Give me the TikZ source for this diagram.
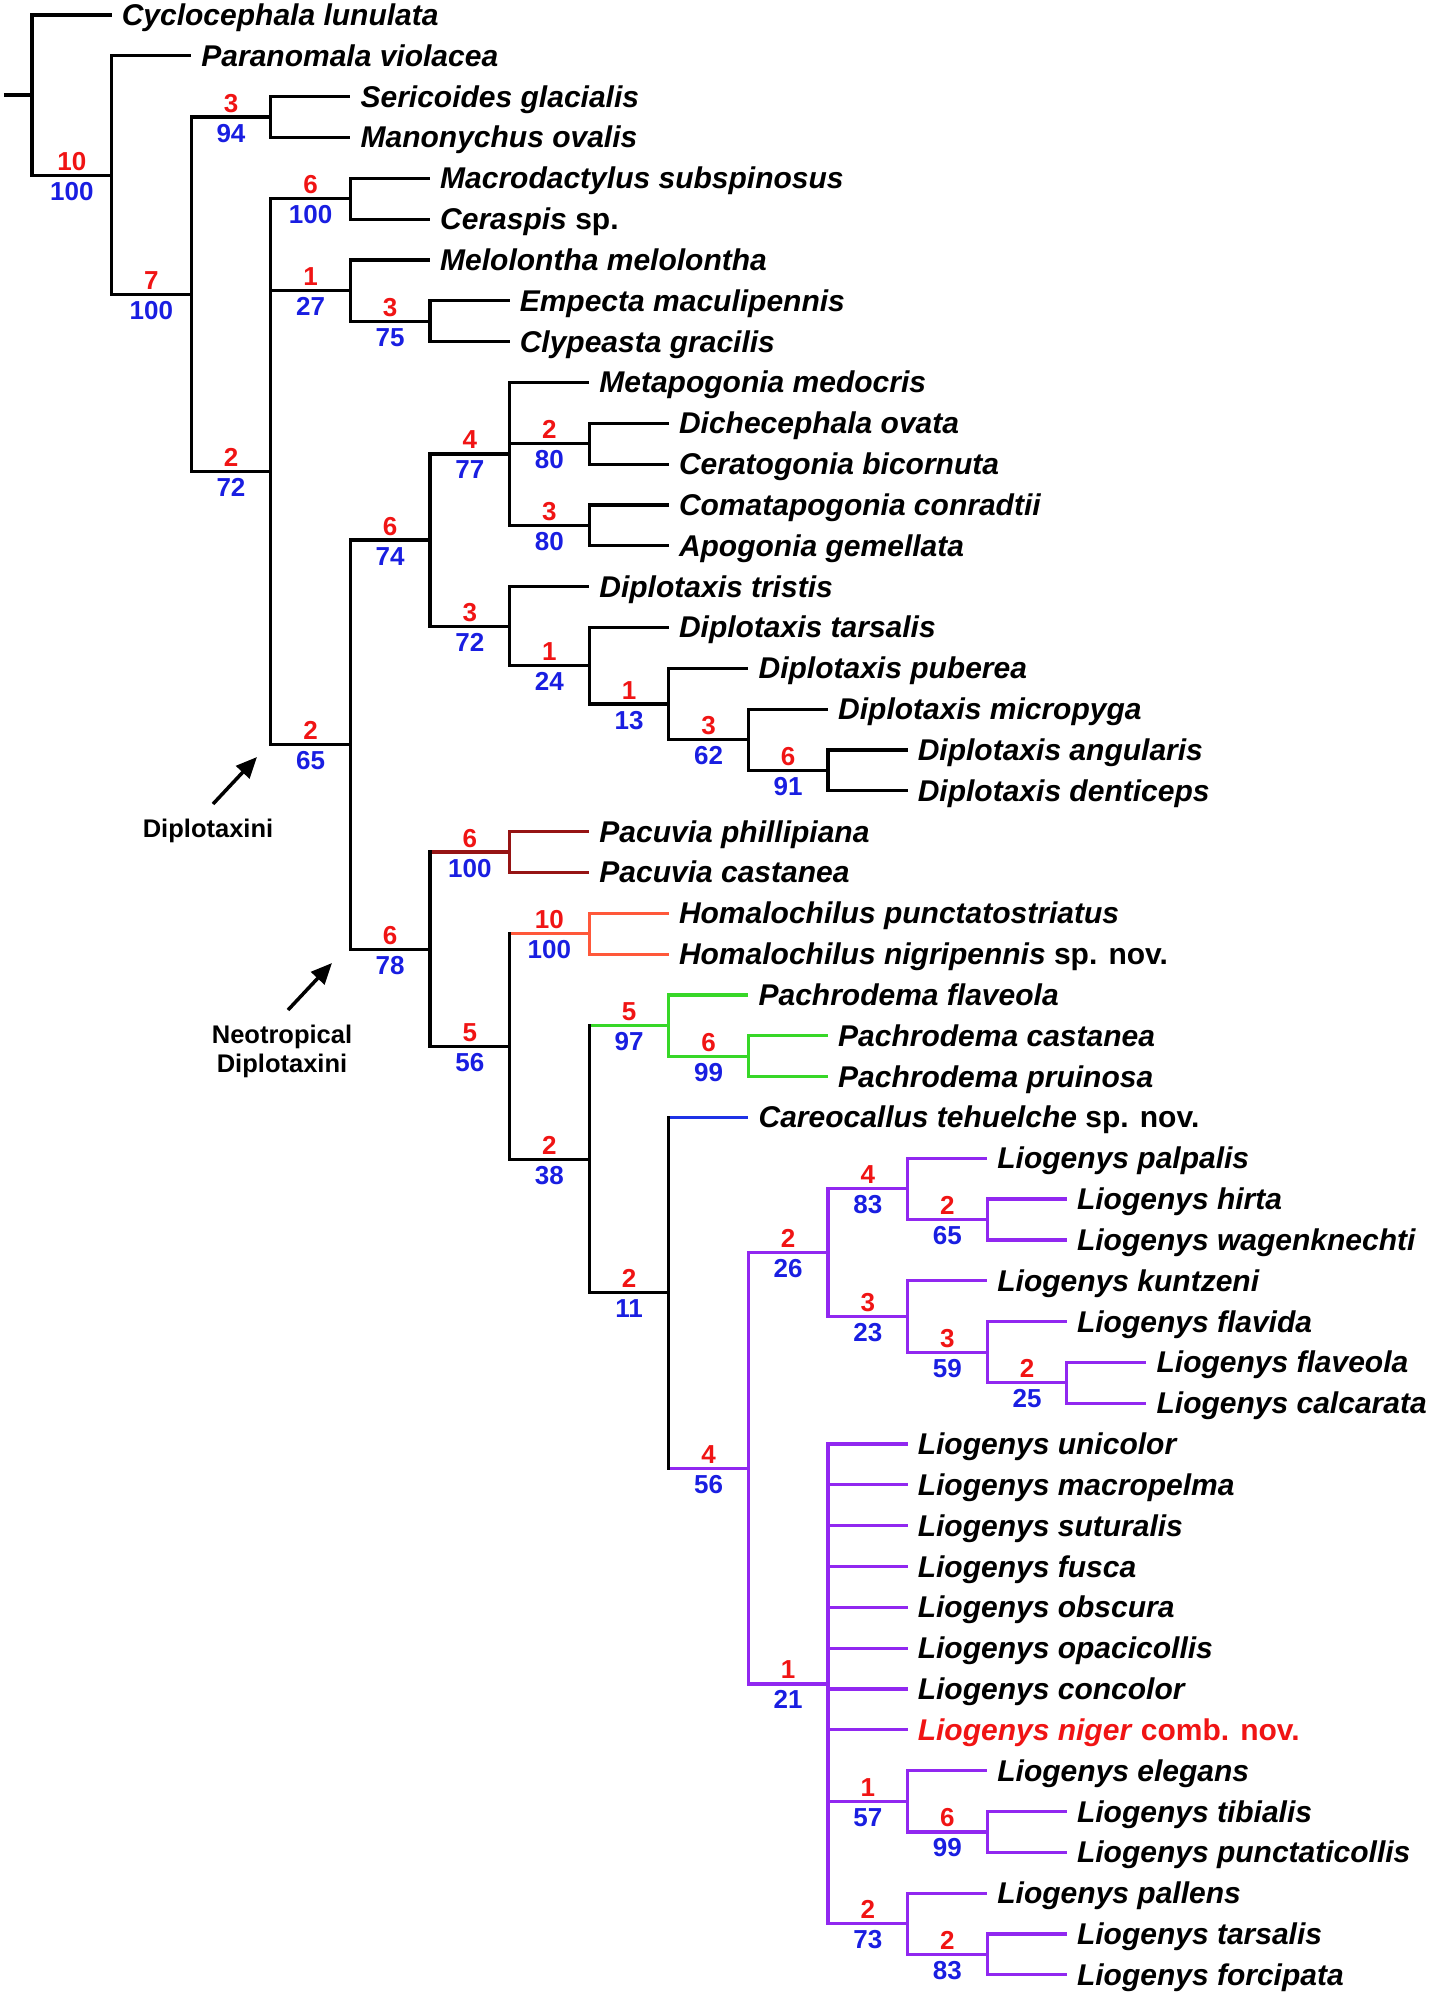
\documentclass[tikz,border=0pt]{standalone}
\usepackage{fontspec}
\setmainfont{Liberation Sans}
\usetikzlibrary{calc,arrows.meta}
\definecolor{nred}{RGB}{240,20,20}
\definecolor{nblue}{RGB}{25,30,225}
\definecolor{pacred}{RGB}{150,20,20}
\definecolor{homor}{RGB}{255,88,58}
\definecolor{pachgr}{RGB}{55,215,40}
\definecolor{carbl}{RGB}{30,50,230}
\definecolor{liopu}{RGB}{145,40,240}
\tikzset{
  hb/.style={line width=3.2pt, line cap=butt},
  vb/.style={line width=3.2pt, line cap=rect},
  tax/.style={anchor=base west, inner sep=0pt, xshift=10pt, yshift=-10.5pt,
    font=\fontsize{30}{36}\selectfont\bfseries\itshape},
  rn/.style={anchor=base, inner sep=0pt, yshift=5pt, text=nred,
    font=\fontsize{26}{30}\selectfont\bfseries},
  bn/.style={anchor=base, inner sep=0pt, yshift=-25pt, text=nblue,
    font=\fontsize{26}{30}\selectfont\bfseries},
  ann/.style={anchor=base, inner sep=0pt, font=\fontsize{25.5}{29}\selectfont\bfseries},
  annarrow/.style={line width=3.5pt, -{Triangle[length=21pt,width=18pt]}}
}
% internal node: name, level, row, parent, colour, red, blue
\newcommand\tnode[7]{%
  \coordinate (#1) at (#2,#3);
  \draw[hb,#5] (#4 |- #1) -- (#1);
  \path ($(#4 |- #1)!0.5!(#1)$) node[rn] (r#1) {#6} node[bn] (b#1) {#7};}
% leaf: id, level, row, parent, colour, text
\newcommand\leaf[6]{%
  \coordinate (t#1) at (#2,#3);
  \draw[hb,#5] (#4 |- t#1) -- (t#1);
  \node[tax] (l#1) at (t#1) {#6};}
% vertical: node, first child, last child, colour
\newcommand\tvert[4]{\draw[vb,#4] (#1 |- #2) -- (#1 |- #3);}
\begin{document}
\begin{tikzpicture}[x=79.6pt,y=-40.83pt]
\useasboundingbox (-32pt,15pt) rectangle (1402pt,-1982pt);
\coordinate (A) at (0,1.9606);
\coordinate (root) at ($(A)+(-28pt,0)$);
\draw[hb] (root) -- (A);
\tnode{B}{1}{3.9213}{A}{black}{10}{100}
\tnode{C}{2}{6.8425}{B}{black}{7}{100}
\tnode{SM}{3}{2.5}{C}{black}{3}{94}
\tnode{E}{3}{11.1851}{C}{black}{2}{72}
\tnode{MC}{4}{4.5}{E}{black}{6}{100}
\tnode{Mel}{4}{6.75}{E}{black}{1}{27}
\tnode{EC}{5}{7.5}{Mel}{black}{3}{75}
\tnode{F}{4}{17.8701}{E}{black}{2}{65}
\tnode{G}{5}{12.8594}{F}{black}{6}{74}
\tnode{H}{6}{10.75}{G}{black}{4}{77}
\tnode{DC}{7}{10.5}{H}{black}{2}{80}
\tnode{CA}{7}{12.5}{H}{black}{3}{80}
\tnode{I}{6}{14.9688}{G}{black}{3}{72}
\tnode{J}{7}{15.9375}{I}{black}{1}{24}
\tnode{K}{8}{16.875}{J}{black}{1}{13}
\tnode{L}{9}{17.75}{K}{black}{3}{62}
\tnode{AD}{10}{18.5}{L}{black}{6}{91}
\tnode{N}{5}{22.8809}{F}{black}{6}{78}
\tnode{Pac}{6}{20.5}{N}{pacred}{6}{100}
\tnode{O}{6}{25.2617}{N}{black}{5}{56}
\tnode{Hom}{7}{22.5}{O}{homor}{10}{100}
\tnode{P}{7}{28.0234}{O}{black}{2}{38}
\tnode{Pach}{8}{24.75}{P}{pachgr}{5}{97}
\tnode{PCP}{9}{25.5}{Pach}{pachgr}{6}{99}
\tnode{Q}{8}{31.2969}{P}{black}{2}{11}
\tnode{R}{9}{35.5938}{Q}{liopu}{4}{56}
\tnode{S}{10}{30.3125}{R}{liopu}{2}{26}
\tnode{T}{11}{28.75}{S}{liopu}{4}{83}
\tnode{HW}{12}{29.5}{T}{liopu}{2}{65}
\tnode{U}{11}{31.875}{S}{liopu}{3}{23}
\tnode{V}{12}{32.75}{U}{liopu}{3}{59}
\tnode{FC}{13}{33.5}{V}{liopu}{2}{25}
\tnode{W}{10}{40.875}{R}{liopu}{1}{21}
\tnode{X}{11}{43.75}{W}{liopu}{1}{57}
\tnode{TP}{12}{44.5}{X}{liopu}{6}{99}
\tnode{Y}{11}{46.75}{W}{liopu}{2}{73}
\tnode{TF}{12}{47.5}{Y}{liopu}{2}{83}
\leaf{0}{1}{0}{A}{black}{Cyclocephala lunulata}
\leaf{1}{2}{1}{B}{black}{Paranomala violacea}
\leaf{2}{4}{2}{SM}{black}{Sericoides glacialis}
\leaf{3}{4}{3}{SM}{black}{Manonychus ovalis}
\leaf{4}{5}{4}{MC}{black}{Macrodactylus subspinosus}
\leaf{5}{5}{5}{MC}{black}{Ceraspis \textup{sp.}}
\leaf{6}{5}{6}{Mel}{black}{Melolontha melolontha}
\leaf{7}{6}{7}{EC}{black}{Empecta maculipennis}
\leaf{8}{6}{8}{EC}{black}{Clypeasta gracilis}
\leaf{9}{7}{9}{H}{black}{Metapogonia medocris}
\leaf{10}{8}{10}{DC}{black}{Dichecephala ovata}
\leaf{11}{8}{11}{DC}{black}{Ceratogonia bicornuta}
\leaf{12}{8}{12}{CA}{black}{Comatapogonia conradtii}
\leaf{13}{8}{13}{CA}{black}{Apogonia gemellata}
\leaf{14}{7}{14}{I}{black}{Diplotaxis tristis}
\leaf{15}{8}{15}{J}{black}{Diplotaxis tarsalis}
\leaf{16}{9}{16}{K}{black}{Diplotaxis puberea}
\leaf{17}{10}{17}{L}{black}{Diplotaxis micropyga}
\leaf{18}{11}{18}{AD}{black}{Diplotaxis angularis}
\leaf{19}{11}{19}{AD}{black}{Diplotaxis denticeps}
\leaf{20}{7}{20}{Pac}{pacred}{Pacuvia phillipiana}
\leaf{21}{7}{21}{Pac}{pacred}{Pacuvia castanea}
\leaf{22}{8}{22}{Hom}{homor}{Homalochilus punctatostriatus}
\leaf{23}{8}{23}{Hom}{homor}{Homalochilus nigripennis \textup{sp. nov.}}
\leaf{24}{9}{24}{Pach}{pachgr}{Pachrodema flaveola}
\leaf{25}{10}{25}{PCP}{pachgr}{Pachrodema castanea}
\leaf{26}{10}{26}{PCP}{pachgr}{Pachrodema pruinosa}
\leaf{27}{9}{27}{Q}{carbl}{Careocallus tehuelche \textup{sp. nov.}}
\leaf{28}{12}{28}{T}{liopu}{Liogenys palpalis}
\leaf{29}{13}{29}{HW}{liopu}{Liogenys hirta}
\leaf{30}{13}{30}{HW}{liopu}{Liogenys wagenknechti}
\leaf{31}{12}{31}{U}{liopu}{Liogenys kuntzeni}
\leaf{32}{13}{32}{V}{liopu}{Liogenys flavida}
\leaf{33}{14}{33}{FC}{liopu}{Liogenys flaveola}
\leaf{34}{14}{34}{FC}{liopu}{Liogenys calcarata}
\leaf{35}{11}{35}{W}{liopu}{Liogenys unicolor}
\leaf{36}{11}{36}{W}{liopu}{Liogenys macropelma}
\leaf{37}{11}{37}{W}{liopu}{Liogenys suturalis}
\leaf{38}{11}{38}{W}{liopu}{Liogenys fusca}
\leaf{39}{11}{39}{W}{liopu}{Liogenys obscura}
\leaf{40}{11}{40}{W}{liopu}{Liogenys opacicollis}
\leaf{41}{11}{41}{W}{liopu}{Liogenys concolor}
\leaf{42}{11}{42}{W}{liopu}{\textcolor{nred}{Liogenys niger \textup{comb. nov.}}}
\leaf{43}{12}{43}{X}{liopu}{Liogenys elegans}
\leaf{44}{13}{44}{TP}{liopu}{Liogenys tibialis}
\leaf{45}{13}{45}{TP}{liopu}{Liogenys punctaticollis}
\leaf{46}{12}{46}{Y}{liopu}{Liogenys pallens}
\leaf{47}{13}{47}{TF}{liopu}{Liogenys tarsalis}
\leaf{48}{13}{48}{TF}{liopu}{Liogenys forcipata}
\tvert{A}{t0}{B}{black}
\tvert{B}{t1}{C}{black}
\tvert{C}{SM}{E}{black}
\tvert{SM}{t2}{t3}{black}
\tvert{E}{MC}{F}{black}
\tvert{MC}{t4}{t5}{black}
\tvert{Mel}{t6}{EC}{black}
\tvert{EC}{t7}{t8}{black}
\tvert{F}{G}{N}{black}
\tvert{G}{H}{I}{black}
\tvert{H}{t9}{CA}{black}
\tvert{DC}{t10}{t11}{black}
\tvert{CA}{t12}{t13}{black}
\tvert{I}{t14}{J}{black}
\tvert{J}{t15}{K}{black}
\tvert{K}{t16}{L}{black}
\tvert{L}{t17}{AD}{black}
\tvert{AD}{t18}{t19}{black}
\tvert{N}{Pac}{O}{black}
\tvert{Pac}{t20}{t21}{pacred}
\tvert{O}{Hom}{P}{black}
\tvert{Hom}{t22}{t23}{homor}
\tvert{P}{Pach}{Q}{black}
\tvert{Pach}{t24}{PCP}{pachgr}
\tvert{PCP}{t25}{t26}{pachgr}
\tvert{Q}{t27}{R}{black}
\tvert{R}{S}{W}{liopu}
\tvert{S}{T}{U}{liopu}
\tvert{T}{t28}{HW}{liopu}
\tvert{HW}{t29}{t30}{liopu}
\tvert{U}{t31}{V}{liopu}
\tvert{V}{t32}{FC}{liopu}
\tvert{FC}{t33}{t34}{liopu}
\tvert{W}{t35}{Y}{liopu}
\tvert{X}{t43}{TP}{liopu}
\tvert{TP}{t44}{t45}{liopu}
\tvert{Y}{t46}{TF}{liopu}
\tvert{TF}{t47}{t48}{liopu}
% annotations
\node[ann] (dip) at (176pt,-822pt) {Diplotaxini};
\coordinate (dipTail) at (181pt,-789pt);
\coordinate (dipTip) at (225pt,-742pt);
\draw[annarrow] (dipTail) -- (dipTip);
\node[ann] (neo1) at (250pt,-1028pt) {Neotropical};
\node[ann] (neo2) at (250pt,-1057pt) {Diplotaxini};
\coordinate (neoTail) at (256pt,-995pt);
\coordinate (neoTip) at (300pt,-948pt);
\draw[annarrow] (neoTail) -- (neoTip);
\end{tikzpicture}
\end{document}
